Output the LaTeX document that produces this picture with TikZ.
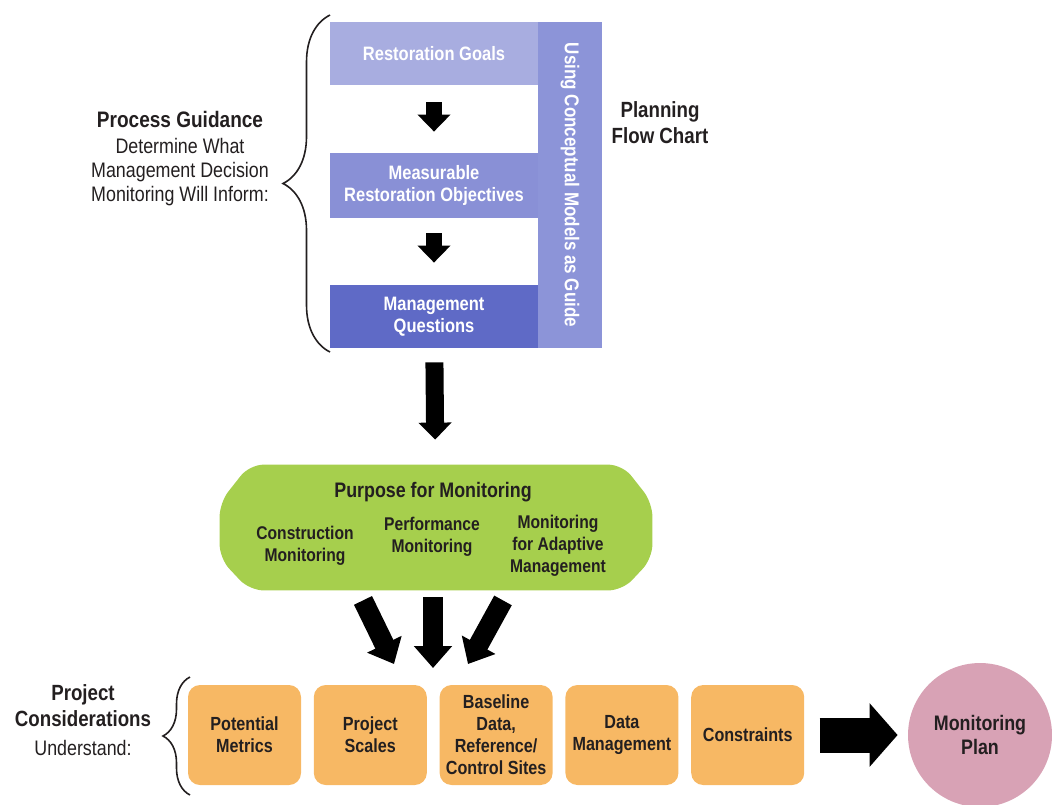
\documentclass[tikz,border=0pt]{standalone}
\usepackage{fontspec}
\setmainfont{Liberation Sans}[FakeStretch=0.85]
\usetikzlibrary{arrows.meta,positioning,calc,decorations.pathreplacing}

\definecolor{guideblue}{HTML}{8C94D8}
\definecolor{goalblue}{HTML}{A8ADE0}
\definecolor{objblue}{HTML}{8990D6}
\definecolor{questblue}{HTML}{5F6AC6}
\definecolor{purposegreen}{HTML}{A6CF4D}
\definecolor{considorange}{HTML}{F7B864}
\definecolor{planpink}{HTML}{D8A2B5}
\definecolor{inkgray}{HTML}{231F20}

\tikzstyle{bluebox} = [rectangle, text=white, align=center, inner sep=0pt, minimum width=104pt, font=\fontsize{9.7}{11}\selectfont\bfseries]
\tikzstyle{considbox} = [rectangle, rounded corners=6pt, fill=considorange, minimum width=56.5pt, minimum height=50pt, inner sep=1pt, align=center, text=inkgray, font=\fontsize{9.5}{11}\selectfont\bfseries]
\tikzstyle{purposetext} = [align=center, text=inkgray, font=\fontsize{9.2}{11}\selectfont\bfseries]
\tikzstyle{sidetext} = [align=center, text=inkgray, font=\fontsize{10.5}{12}\selectfont]
\tikzstyle{sidetitle} = [align=center, text=inkgray, font=\fontsize{11.2}{13}\selectfont\bfseries]
\tikzstyle{stepline} = [draw=black, line width=8pt, -{Triangle[width=16pt,length=8.5pt]}]
\tikzstyle{curlybrace} = [draw=inkgray, line width=0.8pt, decorate]

\begin{document}
\begin{tikzpicture}[x=0.5pt, y=-0.5pt]
    \useasboundingbox (0,0) rectangle (1052,804);

    % planning flow chart
    \node [rectangle, fill=guideblue, rotate=-90, minimum width=163pt, minimum height=32pt, inner sep=0pt, text=white, font=\fontsize{10}{12}\selectfont\bfseries] (guide) at (570,185) {Using Conceptual Models as Guide};
    \node [bluebox, fill=goalblue, minimum height=31.5pt] (goals) at (434,53.5) {Restoration Goals};
    \node [bluebox, fill=objblue, minimum height=32.5pt] (objectives) at (434,185.5) {Measurable\\Restoration Objectives};
    \node [bluebox, fill=questblue, minimum height=31.5pt] (questions) at (434,316.5) {Management\\Questions};

    \path [stepline, shorten <=8.5pt, shorten >=10.5pt] (goals) -- (objectives);
    \path [stepline, shorten <=7.5pt, shorten >=11pt] (objectives) -- (questions);

    \node [sidetitle, font=\fontsize{11}{13}\selectfont\bfseries] (chart) at (660,123) {Planning\\Flow Chart};

    \node [sidetitle] (guidance) at (180,119) {Process Guidance};
    \node [sidetext] (decision) at (180,172) {Determine What\\Management Decision\\Monitoring Will Inform:};
    \draw [curlybrace, decoration={brace, amplitude=23.5pt}] (330,352) -- (330,15);

    % purpose for monitoring, a box with cut corners
    \node [rectangle, minimum width=216pt, minimum height=62.5pt, inner sep=0pt] (purpose) at (436,527.5) {};
    \fill [purposegreen, rounded corners=7pt]
        ($(purpose.north west)+(30,0)$) -- ($(purpose.north east)+(-30,0)$)
        -- ($(purpose.north east)+(0,38)$) -- ($(purpose.south east)+(0,-32)$)
        -- ($(purpose.south east)+(-30,0)$) -- ($(purpose.south west)+(30,0)$)
        -- ($(purpose.south west)+(0,-32)$) -- ($(purpose.north west)+(0,38)$) -- cycle;
    \node [purposetext, font=\fontsize{10.5}{12}\selectfont\bfseries] (purposetitle) at (433,492) {Purpose for Monitoring};
    \node [purposetext] (construction) at (305,546) {Construction\\Monitoring};
    \node [purposetext] (performance) at (432,537) {Performance\\Monitoring};
    \node [purposetext] (adaptive) at (558,546) {Monitoring\\for Adaptive\\Management};

    \path [stepline, line width=9pt, -{Triangle[width=16pt,length=8.5pt]}, shorten <=7pt, shorten >=12.5pt] (questions) -- (purpose);

    % project considerations
    \node [considbox] (metrics) at (244.5,735) {Potential\\Metrics};
    \node [considbox, right=6pt of metrics] (scales) {Project\\Scales};
    \node [considbox, right=6pt of scales] (baseline) {Baseline\\Data,\\Reference/\\Control Sites};
    \node [considbox, right=6pt of baseline] (datamgmt) {Data\\Management};
    \node [considbox, right=6pt of datamgmt] (constraints) {Constraints};

    \coordinate (tipleft) at (394,664);
    \coordinate (tipmid) at (433,668);
    \coordinate (tipright) at (468,664);
    \path [stepline, line width=10pt, -{Triangle[width=18.5pt,length=11pt]}] ($(purpose.south)+(-73,10)$) -- (tipleft);
    \path [stepline, line width=10pt, -{Triangle[width=18.5pt,length=11pt]}] ($(purpose.south)+(-3,7)$) -- (tipmid);
    \path [stepline, line width=10pt, -{Triangle[width=18.5pt,length=11pt]}] ($(purpose.south)+(67,10)$) -- (tipright);

    \node [sidetitle, font=\fontsize{11}{13}\selectfont\bfseries] (considerations) at (83,706) {Project\\Considerations};
    \node [sidetext] (understand) at (83,748) {Understand:};
    \draw [curlybrace, decoration={brace, amplitude=13.5pt}] (190,795) -- (190,677);

    % monitoring plan
    \node [circle, fill=planpink, minimum size=72pt, inner sep=0pt, align=center, text=inkgray, font=\fontsize{10.5}{12}\selectfont\bfseries] (plan) at (980,735) {Monitoring\\Plan};
    \path [stepline, line width=17.5pt, -{Triangle[width=31pt,length=14pt]}, shorten <=7.5pt, shorten >=5pt] (constraints) -- (plan);
\end{tikzpicture}
\end{document}
